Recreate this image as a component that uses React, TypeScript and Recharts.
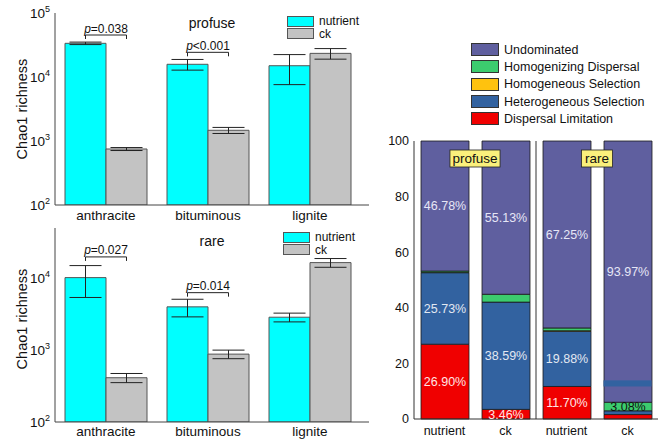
import React from "react";
import {
	Bar,
	ComposedChart,
	ErrorBar,
	LabelList,
	Line,
	ReferenceArea,
	ReferenceLine,
	XAxis,
	YAxis,
} from "recharts";

const FONT = '"Liberation Sans", Arial, sans-serif';

// ---- left: Chao1 richness (log scale) ----
const coals = ["anthracite", "bituminous", "lignite"];
const treatmentNames = ["nutrient", "ck"];

const profuseNutrient = [33600, 15800, 15000];
const profuseNutrientSd = [1500, 3000, 7400];
const profuseCk = [750, 1470, 23400];
const profuseCkSd = [40, 160, 4400];
const profusePText = ["=0.038", "<0.001", null];
const profusePAt = [45300, 24300, null];

const rareNutrient = [10200, 4000, 2870];
const rareNutrientSd = [4800, 1100, 400];
const rareCk = [413, 880, 16500];
const rareCkSd = [60, 120, 2300];
const rarePText = ["=0.027", "=0.014", null];
const rarePAt = [19800, 6300, null];

const profuseTicks = [100, 1000, 10000, 100000];
const rareTicks = [100, 1000, 10000];

// ---- right: assembly processes (%) ----
const sampleIds = ["profuse-nutrient", "profuse-ck", "rare-nutrient", "rare-ck"];
const sampleLabels = ["nutrient", "ck", "nutrient", "ck"];
const dispersalLimitation = [26.9, 3.46, 11.7, 1.6];
const heterogeneousSelection = [25.73, 38.59, 19.88, 1.35];
const homogeneousSelection = [0.1, 0, 0.17, 0];
const homogenizingDispersal = [0.49, 2.82, 1.0, 3.08];
const undominated = [46.78, 55.13, 67.25, 93.97];
const rareCkStripe = [11.7, 13.9];
const percentTicks = [0, 20, 40, 60, 80, 100];

const CYAN = "#00ffff";
const GREY = "#c3c3c3";
const BAR_W = 41;

const processes = [
	{ key: "und", name: "Undominated", color: "#5f5f9f", label: "#e6e6f6" },
	{ key: "hd", name: "Homogenizing Dispersal", color: "#3ccc6e", label: "#111" },
	{ key: "hos", name: "Homogeneous Selection", color: "#ffc20e", label: "#111" },
	{ key: "hes", name: "Heterogeneous Selection", color: "#3262a0", label: "#e2e8f2" },
	{ key: "dl", name: "Dispersal Limitation", color: "#f00000", label: "#ffe4e4" },
];

function PowerTick({ x, y, payload }: any) {
	const exp = Math.round(Math.log10(payload.value));
	return (
		<text x={x - 1} y={y + 5} textAnchor="end" fill="#111" fontSize={13.5} fontFamily={FONT}>
			10
			<tspan fontSize={9} dy={-6}>
				{exp}
			</tspan>
		</text>
	);
}

function YTitle({ viewBox, shift }: any) {
	const cx = viewBox.x + 7;
	const cy = viewBox.y + viewBox.height / 2 + (shift ?? 0);
	return (
		<text
			x={cx}
			y={cy}
			transform={`rotate(-90 ${cx} ${cy})`}
			textAnchor="middle"
			dominantBaseline="central"
			fontSize={14.5}
			fill="#111"
			fontFamily={FONT}
		>
			Chao1 richness
		</text>
	);
}

function BracketDot(props: any) {
	const { cx, cy, payload } = props;
	if (!payload || payload.p == null || cy == null) return <g />;
	const h = BAR_W / 2;
	return (
		<g>
			<path
				d={`M${cx - h},${cy + 4}V${cy}H${cx + h}V${cy + 4}`}
				fill="none"
				stroke="#222"
				strokeWidth={1}
			/>
			<text x={cx} y={cy - 2.5} textAnchor="middle" fontSize={12} fill="#111" fontFamily={FONT}>
				<tspan fontStyle="italic">p</tspan>
				{payload.p}
			</text>
		</g>
	);
}

function RichnessPanel(props: any) {
	const {
		nutrient, nutrientSd, ck, ckSd, pText, pAt, top, ticks,
		height, marginTop, xAxisHeight, tickSize, yShift,
	} = props;
	const data = coals.map((coal, i) => ({
		coal,
		nutrient: nutrient[i],
		nutrientSd: nutrientSd[i],
		ck: ck[i],
		ckSd: ckSd[i],
		p: pText[i],
		pAt: pAt[i],
	}));
	return (
		<ComposedChart
			width={372}
			height={height}
			data={data}
			margin={{ top: marginTop, right: 3, bottom: 0, left: 15 }}
			barGap={0}
		>
			<XAxis
				dataKey="coal"
				height={xAxisHeight}
				padding={{ left: 0, right: 8 }}
				stroke="#444"
				tickLine={false}
				tickSize={tickSize}
				tickMargin={0}
				tick={{ fill: "#111", fontSize: 13.5, fontFamily: FONT }}
			/>
			<XAxis
				xAxisId="top"
				orientation="top"
				dataKey="coal"
				height={0}
				padding={{ left: 0, right: 8 }}
				stroke="#444"
				tick={false}
				tickLine={false}
			/>
			<YAxis
				scale="log"
				domain={[100, top]}
				ticks={ticks}
				allowDataOverflow
				width={40}
				stroke="#444"
				tickLine={false}
				tickSize={2}
				tick={<PowerTick />}
				label={{ content: <YTitle shift={yShift} /> }}
			/>
			<YAxis yAxisId="right" orientation="right" width={0} stroke="#444" tick={false} tickLine={false} />
			<Bar dataKey="nutrient" fill={CYAN} stroke="#555" barSize={BAR_W} isAnimationActive={false}>
				<ErrorBar dataKey="nutrientSd" width={16} stroke="#222" strokeWidth={1} />
			</Bar>
			<Bar dataKey="ck" fill={GREY} stroke="#555" barSize={BAR_W} isAnimationActive={false}>
				<ErrorBar dataKey="ckSd" width={16} stroke="#222" strokeWidth={1} />
			</Bar>
			<Line
				dataKey="pAt"
				stroke="none"
				dot={(d: any) => <BracketDot key={`b-${d.index}`} {...d} />}
				activeDot={false}
				isAnimationActive={false}
			/>
		</ComposedChart>
	);
}

function SmallLegend({ left, top }: { left: number; top: number }) {
	const colors = [CYAN, GREY];
	return (
		<div style={{ position: "absolute", left, top, fontFamily: FONT, fontSize: 12, color: "#111" }}>
			{treatmentNames.map((n, i) => (
				<div key={n} style={{ display: "flex", alignItems: "center", height: 12.5 }}>
					<div
						style={{
							width: 25,
							height: 9,
							background: colors[i],
							border: "1px solid #555",
							marginRight: 5,
						}}
					/>
					<span style={{ lineHeight: "12px" }}>{n}</span>
				</div>
			))}
		</div>
	);
}

function GroupTag({ viewBox, text }: any) {
	const w = text.length * 6.3 + 6;
	const x = viewBox.x;
	const y = viewBox.y + 9;
	return (
		<g>
			<rect x={x - w / 2} y={y} width={w} height={17} fill="#fbf07c" stroke="#222" strokeWidth={0.8} />
			<text x={x} y={y + 13} textAnchor="middle" fontSize={13.5} fill="#111" fontFamily={FONT}>
				{text}
			</text>
		</g>
	);
}

function StripeShape(p: any) {
	const w = 48;
	return <rect x={p.x + (p.width - w) / 2} y={p.y} width={w} height={p.height} fill="#3262a0" />;
}

const pct = (v: any) => (typeof v === "number" && v >= 3 ? `${v.toFixed(2)}%` : "");

function ProcessPanel() {
	const data = sampleIds.map((id, i) => ({
		id,
		dl: dispersalLimitation[i],
		hes: heterogeneousSelection[i],
		hos: homogeneousSelection[i],
		hd: homogenizingDispersal[i],
		und: undominated[i],
	}));
	const stackOrder = [...processes].reverse();
	return (
		<ComposedChart
			width={304}
			height={444}
			data={data}
			margin={{ top: 141, right: 6, bottom: 0, left: 24 }}
		>
			<XAxis
				dataKey="id"
				height={25}
				stroke="#333"
				tickLine={false}
				tickSize={6}
				tickMargin={1}
				tickFormatter={(_v: any, i: number) => sampleLabels[i]}
				tick={{ fill: "#111", fontSize: 12.5, fontFamily: FONT }}
			/>
			<XAxis xAxisId="top" orientation="top" dataKey="id" height={0} stroke="#333" tick={false} tickLine={false} />
			<YAxis
				domain={[0, 100]}
				ticks={percentTicks}
				width={30}
				stroke="#333"
				tickLine={false}
				tickSize={3}
				tick={{ fill: "#111", fontSize: 12.5, fontFamily: FONT }}
			/>
			<YAxis yAxisId="right" orientation="right" width={0} stroke="#333" tick={false} tickLine={false} />
			{stackOrder.map((p) => (
				<Bar
					key={p.key}
					dataKey={p.key}
					name={p.name}
					stackId="s"
					fill={p.color}
					stroke="#1a1a1a"
					strokeWidth={0.8}
					barSize={48}
					isAnimationActive={false}
				>
					<LabelList
						dataKey={p.key}
						position="center"
						formatter={pct}
						fill={p.label}
						fontSize={12.5}
						fontFamily={FONT}
					/>
				</Bar>
			))}
			<ReferenceArea
				x1="rare-ck"
				x2="rare-ck"
				y1={rareCkStripe[0]}
				y2={rareCkStripe[1]}
				shape={<StripeShape />}
				zIndex={1000}
			/>
			<ReferenceLine x="rare-nutrient" position="start" stroke="#333" zIndex={1000} />
			<ReferenceLine
				x="profuse-ck"
				position="start"
				stroke="none"
				zIndex={1000}
				label={<GroupTag text="profuse" />}
			/>
			<ReferenceLine
				x="rare-ck"
				position="start"
				stroke="none"
				zIndex={1000}
				label={<GroupTag text="rare" />}
			/>
		</ComposedChart>
	);
}

function ProcessLegend() {
	return (
		<div style={{ position: "absolute", left: 471, top: 41, fontFamily: FONT, fontSize: 12.5, color: "#111" }}>
			{processes.map((p) => (
				<div key={p.key} style={{ display: "flex", alignItems: "center", height: 17.3 }}>
					<div
						style={{
							width: 26,
							height: 11,
							background: p.color,
							border: "1px solid #333",
							marginRight: 5,
						}}
					/>
					<span>{p.name}</span>
				</div>
			))}
		</div>
	);
}

function Title({ text, top }: { text: string; top: number }) {
	return (
		<div
			style={{
				position: "absolute",
				left: 162,
				width: 100,
				top,
				textAlign: "center",
				fontFamily: FONT,
				fontSize: 14,
				color: "#111",
			}}
		>
			{text}
		</div>
	);
}

export default function App() {
	return (
		<div
			style={{
				position: "absolute",
				left: 0,
				top: 0,
				width: 664,
				height: 444,
				background: "#fff",
				overflow: "hidden",
			}}
		>
			<div style={{ position: "absolute", left: 0, top: 0 }}>
				<RichnessPanel
					nutrient={profuseNutrient}
					nutrientSd={profuseNutrientSd}
					ck={profuseCk}
					ckSd={profuseCkSd}
					pText={profusePText}
					pAt={profusePAt}
					top={100000}
					ticks={profuseTicks}
					height={224}
					marginTop={13}
					xAxisHeight={19}
					tickSize={5}
					yShift={0}
				/>
			</div>
			<div style={{ position: "absolute", left: 0, top: 222 }}>
				<RichnessPanel
					nutrient={rareNutrient}
					nutrientSd={rareNutrientSd}
					ck={rareCk}
					ckSd={rareCkSd}
					pText={rarePText}
					pAt={rarePAt}
					top={50000}
					ticks={rareTicks}
					height={222}
					marginTop={6}
					xAxisHeight={22}
					tickSize={4}
					yShift={-6}
				/>
			</div>
			<Title text="profuse" top={15} />
			<Title text="rare" top={233} />
			<SmallLegend left={287} top={15} />
			<SmallLegend left={283} top={231} />
			<div style={{ position: "absolute", left: 360, top: 0 }}>
				<ProcessPanel />
			</div>
			<ProcessLegend />
		</div>
	);
}
